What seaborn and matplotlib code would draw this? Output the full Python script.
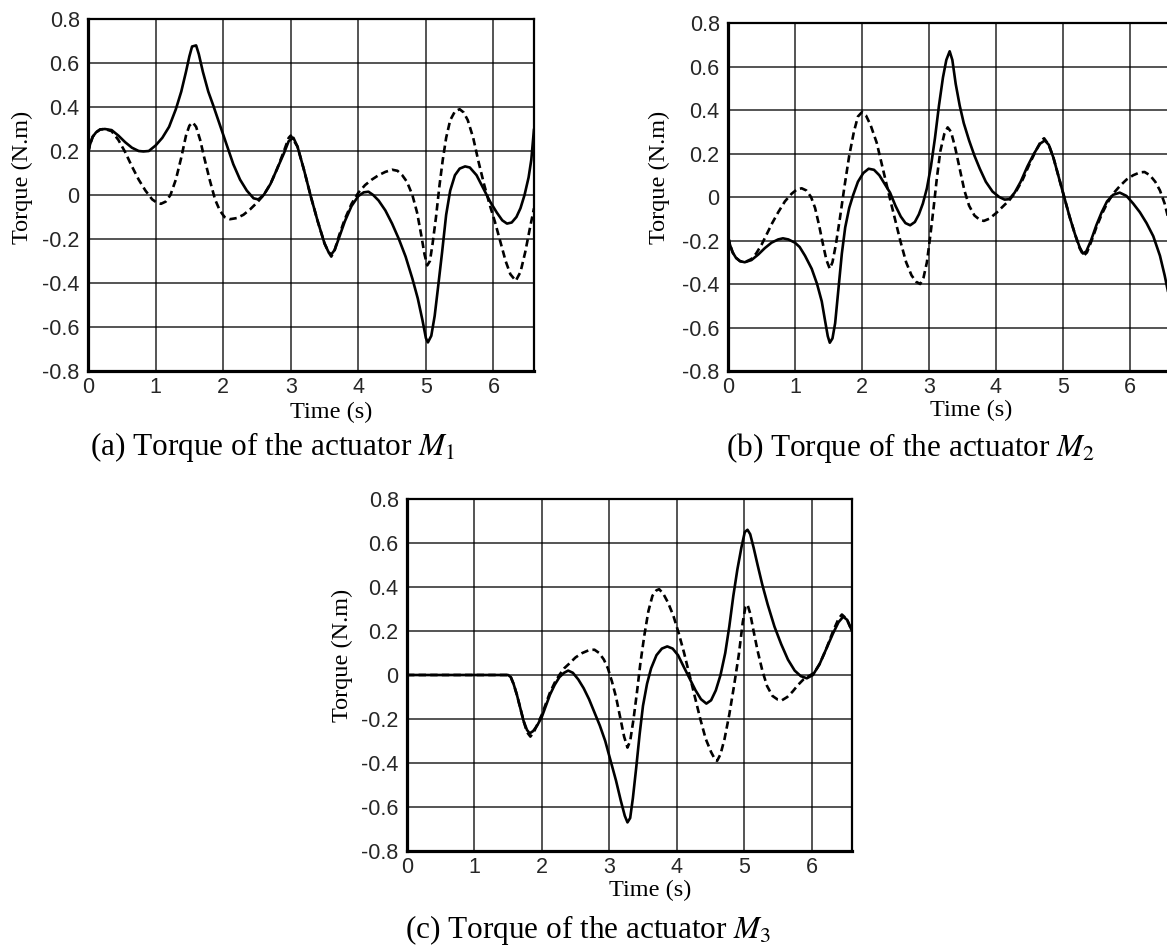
import numpy as np
import pandas as pd
import matplotlib
matplotlib.use("Agg")
import matplotlib.pyplot as plt
import seaborn as sns

# ---------------- data ----------------
# Panel (a): actuator M1
a_solid_t = [0.0, 0.03, 0.07, 0.12, 0.18, 0.25, 0.35, 0.45, 0.55, 0.65, 0.75, 0.82, 0.9, 1.0, 1.1, 1.2,
             1.3, 1.38, 1.45, 1.5, 1.54, 1.6, 1.64, 1.7, 1.78, 1.85, 1.95, 2.05, 2.15, 2.25, 2.35, 2.45,
             2.52, 2.6, 2.7, 2.8, 2.9, 2.97, 3.04, 3.1, 3.2, 3.3, 3.4, 3.5, 3.56, 3.6, 3.65, 3.72,
             3.8, 3.9, 4.0, 4.08, 4.15, 4.22, 4.3, 4.4, 4.5, 4.6, 4.7, 4.8, 4.88, 4.95, 5.0, 5.03,
             5.08, 5.13, 5.18, 5.24, 5.3, 5.36, 5.43, 5.5, 5.58, 5.65, 5.75, 5.85, 5.95, 6.05, 6.13, 6.2,
             6.27, 6.34, 6.4, 6.46, 6.52, 6.56, 6.6]
a_solid_v = [0.19, 0.23, 0.265, 0.285, 0.298, 0.30, 0.295, 0.27, 0.24, 0.215, 0.20, 0.198, 0.20, 0.225, 0.26, 0.31,
             0.39, 0.47, 0.56, 0.63, 0.675, 0.68, 0.64, 0.56, 0.47, 0.41, 0.32, 0.23, 0.14, 0.07, 0.02, -0.015,
             -0.02, 0.0, 0.05, 0.12, 0.19, 0.245, 0.26, 0.22, 0.11, -0.01, -0.12, -0.22, -0.26, -0.27, -0.25, -0.19,
             -0.12, -0.05, -0.005, 0.012, 0.015, 0.0, -0.025, -0.07, -0.13, -0.20, -0.28, -0.38, -0.47, -0.57, -0.65, -0.67,
             -0.64, -0.55, -0.42, -0.26, -0.09, 0.02, 0.09, 0.12, 0.13, 0.125, 0.09, 0.03, -0.03, -0.08, -0.115, -0.13,
             -0.125, -0.10, -0.06, 0.0, 0.08, 0.16, 0.30]
a_dash_t = [0.0, 0.03, 0.07, 0.12, 0.18, 0.25, 0.35, 0.45, 0.55, 0.65, 0.75, 0.85, 0.95, 1.02, 1.08, 1.15,
            1.22, 1.3, 1.38, 1.45, 1.5, 1.55, 1.6, 1.66, 1.72, 1.8, 1.88, 1.95, 2.02, 2.1, 2.2, 2.3,
            2.4, 2.5, 2.6, 2.7, 2.8, 2.9, 2.97, 3.0, 3.06, 3.1, 3.2, 3.3, 3.4, 3.5, 3.56, 3.6,
            3.65, 3.72, 3.8, 3.9, 4.0, 4.1, 4.2, 4.3, 4.4, 4.5, 4.58, 4.65, 4.72, 4.8, 4.87, 4.93,
            4.98, 5.02, 5.06, 5.1, 5.15, 5.2, 5.25, 5.3, 5.36, 5.43, 5.5, 5.56, 5.62, 5.7, 5.78, 5.86,
            5.94, 6.02, 6.1, 6.18, 6.25, 6.33, 6.4, 6.47, 6.54, 6.6]
a_dash_v = [0.19, 0.23, 0.265, 0.285, 0.298, 0.30, 0.29, 0.25, 0.195, 0.13, 0.07, 0.02, -0.02, -0.035, -0.04, -0.03,
            0.0, 0.07, 0.17, 0.27, 0.315, 0.33, 0.31, 0.25, 0.17, 0.07, -0.02, -0.07, -0.10, -0.11, -0.105, -0.09,
            -0.065, -0.035, 0.0, 0.05, 0.12, 0.20, 0.26, 0.27, 0.24, 0.22, 0.11, -0.01, -0.12, -0.22, -0.26, -0.28,
            -0.25, -0.18, -0.11, -0.04, 0.01, 0.045, 0.07, 0.09, 0.105, 0.115, 0.11, 0.09, 0.06, 0.0, -0.08, -0.18,
            -0.27, -0.32, -0.30, -0.22, -0.10, 0.04, 0.16, 0.26, 0.34, 0.38, 0.39, 0.375, 0.34, 0.26, 0.15, 0.05,
            -0.04, -0.12, -0.21, -0.30, -0.36, -0.39, -0.35, -0.26, -0.15, -0.06]

# Panel (b): actuator M2
b_solid_t = [0.0, 0.03, 0.07, 0.12, 0.18, 0.25, 0.35, 0.45, 0.55, 0.65, 0.75, 0.82, 0.9, 1.0, 1.07, 1.15,
             1.25, 1.33, 1.4, 1.45, 1.49, 1.52, 1.56, 1.6, 1.65, 1.7, 1.75, 1.81, 1.87, 1.94, 2.02, 2.1,
             2.18, 2.26, 2.34, 2.42, 2.5, 2.58, 2.65, 2.72, 2.79, 2.85, 2.91, 2.97, 3.03, 3.09, 3.15, 3.21,
             3.26, 3.31, 3.35, 3.4, 3.46, 3.52, 3.6, 3.68, 3.76, 3.85, 3.95, 4.05, 4.13, 4.2, 4.28, 4.37,
             4.47, 4.57, 4.66, 4.73, 4.79, 4.86, 4.94, 5.02, 5.1, 5.18, 5.25, 5.3, 5.35, 5.42, 5.5, 5.58,
             5.66, 5.75, 5.85, 5.95, 6.05, 6.15, 6.25, 6.35, 6.45, 6.52, 6.6]
b_solid_v = [-0.18, -0.22, -0.255, -0.28, -0.295, -0.30, -0.29, -0.265, -0.235, -0.21, -0.195, -0.19, -0.195, -0.21, -0.23, -0.27,
             -0.33, -0.40, -0.48, -0.57, -0.64, -0.67, -0.65, -0.58, -0.42, -0.26, -0.14, -0.05, 0.01, 0.07, 0.11, 0.13,
             0.125, 0.10, 0.06, 0.02, -0.04, -0.09, -0.12, -0.13, -0.115, -0.08, -0.03, 0.04, 0.14, 0.27, 0.42, 0.55,
             0.63, 0.67, 0.63, 0.52, 0.42, 0.34, 0.26, 0.19, 0.13, 0.07, 0.025, 0.0, -0.012, -0.01, 0.02, 0.07,
             0.14, 0.20, 0.245, 0.26, 0.24, 0.18, 0.09, 0.0, -0.09, -0.17, -0.23, -0.26, -0.25, -0.20, -0.13, -0.07,
             -0.02, 0.01, 0.02, 0.005, -0.03, -0.07, -0.12, -0.18, -0.27, -0.36, -0.48]
b_dash_t = [0.0, 0.03, 0.07, 0.12, 0.18, 0.25, 0.35, 0.42, 0.5, 0.58, 0.66, 0.75, 0.85, 0.95, 1.03, 1.1,
            1.17, 1.24, 1.3, 1.36, 1.42, 1.47, 1.52, 1.56, 1.61, 1.67, 1.74, 1.81, 1.88, 1.94, 2.0, 2.06,
            2.13, 2.22, 2.32, 2.42, 2.5, 2.58, 2.66, 2.74, 2.81, 2.87, 2.92, 2.97, 3.02, 3.07, 3.12, 3.17,
            3.23, 3.28, 3.33, 3.39, 3.46, 3.53, 3.6, 3.68, 3.76, 3.82, 3.9, 4.0, 4.1, 4.2, 4.3, 4.4,
            4.5, 4.6, 4.68, 4.72, 4.79, 4.86, 4.94, 5.02, 5.1, 5.18, 5.25, 5.31, 5.36, 5.43, 5.5, 5.58,
            5.66, 5.75, 5.85, 5.95, 6.05, 6.15, 6.22, 6.3, 6.38, 6.45, 6.52, 6.6]
b_dash_v = [-0.18, -0.22, -0.255, -0.28, -0.295, -0.30, -0.285, -0.26, -0.22, -0.17, -0.12, -0.07, -0.02, 0.015, 0.035, 0.04,
            0.03, 0.0, -0.05, -0.13, -0.22, -0.29, -0.33, -0.30, -0.22, -0.10, 0.05, 0.19, 0.30, 0.37, 0.39, 0.375,
            0.33, 0.25, 0.12, -0.01, -0.11, -0.21, -0.30, -0.36, -0.39, -0.40, -0.37, -0.30, -0.18, -0.05, 0.09, 0.21,
            0.29, 0.32, 0.30, 0.23, 0.13, 0.03, -0.04, -0.085, -0.105, -0.11, -0.10, -0.075, -0.045, -0.015, 0.025, 0.08,
            0.15, 0.215, 0.26, 0.27, 0.24, 0.18, 0.09, 0.0, -0.09, -0.17, -0.235, -0.27, -0.255, -0.20, -0.14, -0.08,
            -0.03, 0.015, 0.05, 0.08, 0.10, 0.113, 0.115, 0.10, 0.07, 0.03, -0.03, -0.13]

# Panel (c): actuator M3
c_solid_t = [0.0, 1.5, 1.54, 1.58, 1.63, 1.68, 1.73, 1.78, 1.82, 1.87, 1.93, 2.0, 2.06, 2.12, 2.19, 2.26,
             2.33, 2.39, 2.46, 2.54, 2.62, 2.7, 2.78, 2.86, 2.94, 3.02, 3.1, 3.17, 3.23, 3.27, 3.31, 3.35,
             3.4, 3.45, 3.5, 3.56, 3.62, 3.7, 3.78, 3.86, 3.94, 4.02, 4.1, 4.19, 4.28, 4.36, 4.44, 4.51,
             4.58, 4.65, 4.72, 4.78, 4.84, 4.9, 4.96, 5.01, 5.05, 5.09, 5.14, 5.2, 5.27, 5.35, 5.45, 5.55,
             5.65, 5.75, 5.84, 5.93, 6.02, 6.12, 6.22, 6.32, 6.4, 6.47, 6.53, 6.6]
c_solid_v = [0.0, 0.0, -0.01, -0.04, -0.09, -0.15, -0.21, -0.25, -0.265, -0.255, -0.23, -0.19, -0.14, -0.09, -0.045, -0.01,
             0.01, 0.02, 0.01, -0.02, -0.06, -0.11, -0.17, -0.23, -0.30, -0.39, -0.48, -0.57, -0.64, -0.67, -0.65, -0.56,
             -0.42, -0.27, -0.14, -0.04, 0.03, 0.09, 0.12, 0.13, 0.12, 0.09, 0.04, -0.015, -0.07, -0.11, -0.13, -0.115,
             -0.07, 0.0, 0.10, 0.22, 0.36, 0.48, 0.58, 0.65, 0.66, 0.64, 0.58, 0.50, 0.41, 0.32, 0.22, 0.14,
             0.07, 0.02, -0.005, -0.015, 0.0, 0.05, 0.12, 0.19, 0.24, 0.265, 0.25, 0.20]
c_dash_t = [0.0, 1.5, 1.54, 1.58, 1.63, 1.68, 1.73, 1.78, 1.83, 1.88, 1.94, 2.0, 2.06, 2.12, 2.19, 2.26,
            2.33, 2.4, 2.5, 2.6, 2.7, 2.78, 2.85, 2.92, 2.98, 3.04, 3.1, 3.16, 3.22, 3.27, 3.31, 3.36,
            3.41, 3.46, 3.52, 3.58, 3.64, 3.7, 3.74, 3.8, 3.87, 3.95, 4.03, 4.11, 4.19, 4.27, 4.35, 4.43,
            4.51, 4.57, 4.6, 4.65, 4.71, 4.78, 4.85, 4.92, 4.98, 5.02, 5.05, 5.09, 5.14, 5.2, 5.27, 5.34,
            5.42, 5.5, 5.56, 5.64, 5.72, 5.8, 5.88, 5.96, 6.04, 6.12, 6.22, 6.32, 6.4, 6.45, 6.52, 6.6]
c_dash_v = [0.0, 0.0, -0.01, -0.04, -0.09, -0.15, -0.21, -0.26, -0.28, -0.26, -0.22, -0.18, -0.13, -0.08, -0.035, 0.0,
            0.03, 0.05, 0.08, 0.10, 0.113, 0.115, 0.10, 0.07, 0.03, -0.03, -0.10, -0.19, -0.28, -0.33, -0.30, -0.20,
            -0.08, 0.05, 0.18, 0.29, 0.36, 0.385, 0.39, 0.37, 0.33, 0.27, 0.19, 0.10, 0.0, -0.10, -0.20, -0.29,
            -0.35, -0.385, -0.39, -0.36, -0.29, -0.18, -0.05, 0.09, 0.24, 0.31, 0.32, 0.28, 0.20, 0.11, 0.02, -0.05,
            -0.095, -0.112, -0.115, -0.10, -0.075, -0.045, -0.02, -0.005, 0.01, 0.05, 0.12, 0.20, 0.255, 0.275, 0.255, 0.20]

x_ticks = [0, 1, 2, 3, 4, 5, 6]
y_ticks = [-0.8, -0.6, -0.4, -0.2, 0.0, 0.2, 0.4, 0.6, 0.8]
y_tick_labels = ["-0.8", "-0.6", "-0.4", "-0.2", "0", "0.2", "0.4", "0.6", "0.8"]
x_label = "Time (s)"
y_label = "Torque (N.m)"
captions = ["(a) Torque of the actuator $M_1$",
            "(b) Torque of the actuator $M_2$",
            "(c) Torque of the actuator $M_3$"]

# ---------------- figure ----------------
sns.set_theme(style="white")
plt.rcParams["mathtext.fontset"] = "stix"
plt.rcParams["font.family"] = ["Liberation Serif", "DejaVu Serif"]

W, H = 1167, 947
fig = plt.figure(figsize=(W / 100, H / 100), dpi=100)
fig.patch.set_facecolor("white")


def px_axes(left, top, right, bottom):
    return fig.add_axes([left / W, 1 - bottom / H, (right - left) / W, (bottom - top) / H])


panels = [
    dict(rect=(88, 19, 534, 371), solid=(a_solid_t, a_solid_v), dash=(a_dash_t, a_dash_v),
         ylab=(-0.146, 0.551), xlab=(0.545, -0.119), cap=(273, 455)),
    dict(rect=(728, 23, 1170, 371), solid=(b_solid_t, b_solid_v), dash=(b_dash_t, b_dash_v),
         ylab=(-0.156, 0.555), xlab=(0.55, -0.112), cap=(910, 456)),
    dict(rect=(407, 499, 852, 851), solid=(c_solid_t, c_solid_v), dash=(c_dash_t, c_dash_v),
         ylab=(-0.146, 0.557), xlab=(0.546, -0.111), cap=(588, 938)),
]

tick_font = dict(family="Liberation Sans", size=15.5)

for i, p in enumerate(panels):
    ax = px_axes(*p["rect"])
    ax.set_facecolor("white")
    ds = pd.DataFrame({"t": p["solid"][0], "v": p["solid"][1]})
    dd = pd.DataFrame({"t": p["dash"][0], "v": p["dash"][1]})
    sns.lineplot(data=dd, x="t", y="v", ax=ax, color="black", linewidth=1.9,
                 estimator=None, sort=False, linestyle=(0, (2.8, 1.6)), zorder=3)
    sns.lineplot(data=ds, x="t", y="v", ax=ax, color="black", linewidth=1.9,
                 estimator=None, sort=False, zorder=4)
    for ln in ax.get_lines():
        ln.set_solid_joinstyle("round")
        ln.set_dash_joinstyle("round")
    ax.set_xlim(0, 6.6)
    ax.set_ylim(-0.8, 0.8)
    ax.set_xticks(x_ticks)
    ax.set_xticklabels([str(x) for x in x_ticks], fontdict=tick_font, color="#262626")
    ax.set_yticks(y_ticks)
    ax.set_yticklabels(y_tick_labels, fontdict=tick_font, color="#262626")
    ax.tick_params(axis="both", length=0, pad=6)
    ax.tick_params(axis="x", pad=4)
    ax.grid(True, color="black", linewidth=1.1, alpha=0.85)
    ax.set_axisbelow(True)
    for side, lw in (("left", 2.3), ("bottom", 2.3), ("top", 1.6), ("right", 1.6)):
        ax.spines[side].set_visible(True)
        ax.spines[side].set_color("black")
        ax.spines[side].set_linewidth(lw)
    ax.set_xlabel(x_label, fontsize=17.5, color="black")
    ax.set_ylabel(y_label, fontsize=17.5, color="black")
    ax.xaxis.set_label_coords(*p["xlab"])
    ax.yaxis.set_label_coords(*p["ylab"])
    ax.xaxis.label.set_va("center")
    ax.yaxis.label.set_va("center")
    cx, cy = p["cap"]
    fig.text(cx / W, 1 - cy / H, captions[i], ha="center", va="baseline",
             fontsize=22.5, color="black")

fig.savefig("out.png", dpi=100, facecolor="white")
